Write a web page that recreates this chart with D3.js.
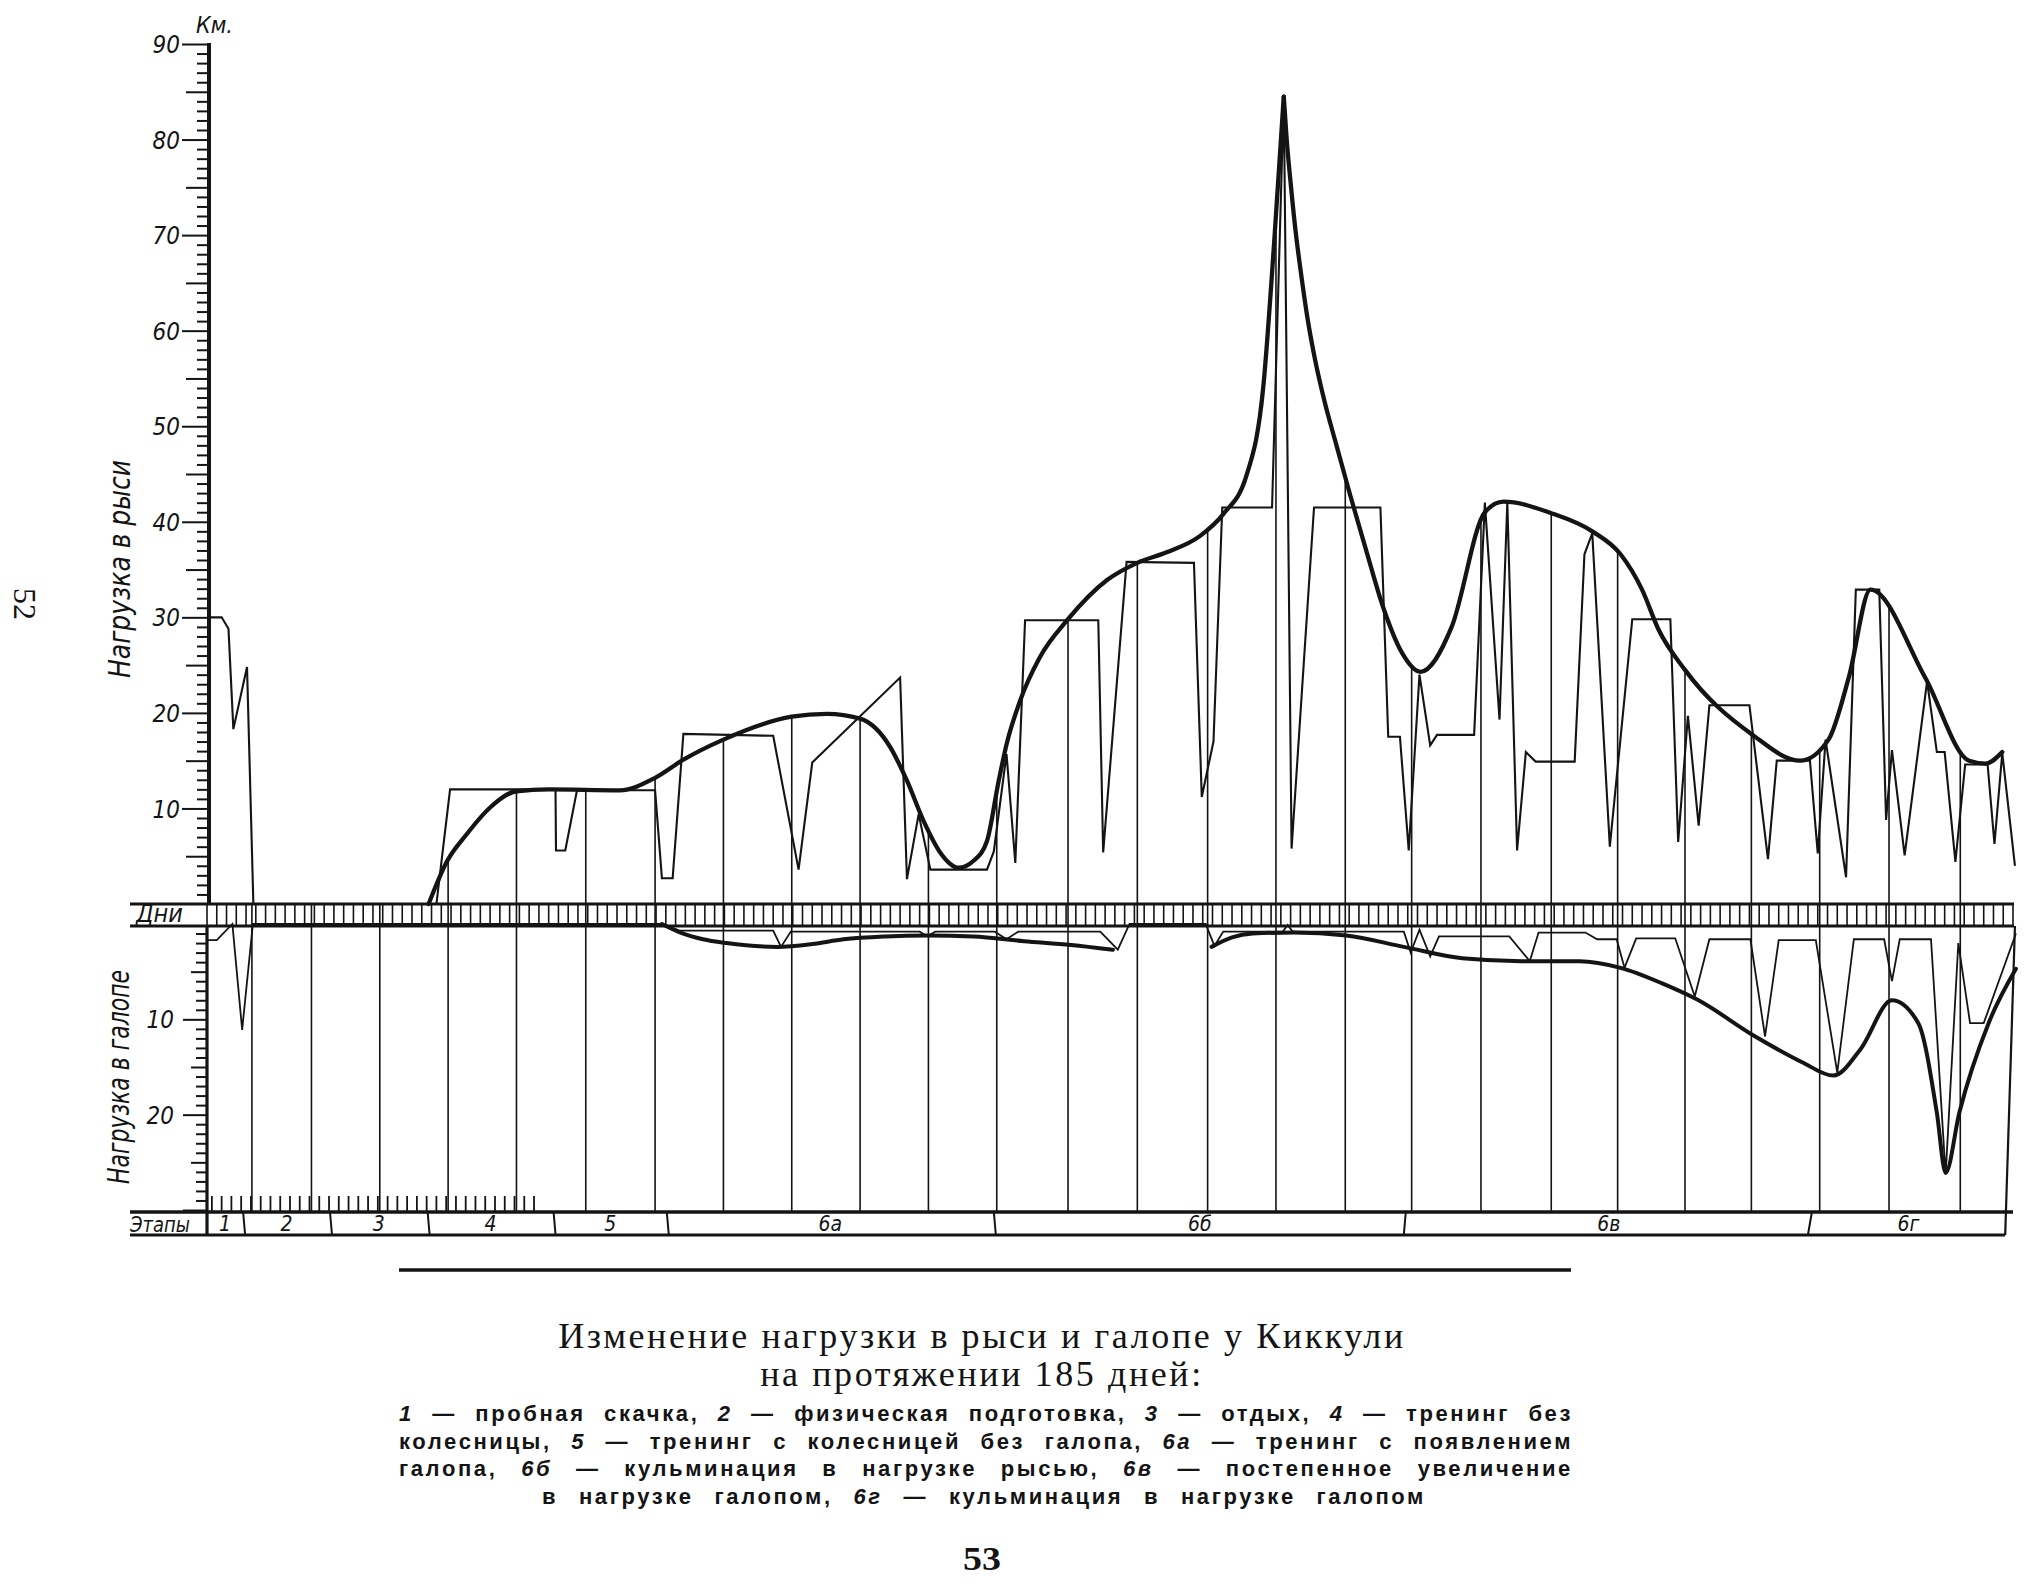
<!DOCTYPE html>
<html><head><meta charset="utf-8">
<script src="https://cdn.jsdelivr.net/npm/d3@7"></script>
<style>
html,body{margin:0;padding:0;background:#fff;}
svg{display:block;}
</style></head>
<body>
<svg id="chart" width="2033" height="1589"></svg>
<script>
// ---------------- DATA ----------------
// Trot load, thin daily line: [day, km]
const trotDaily = [[0,30],[1.5,30],[2.2,28.8],[2.7,18.3],[4.1,24.8],[4.75,0],[23.5,0],[24.9,12],[35.7,12],[35.75,5.6],[36.7,5.6],[37.9,11.9],[45.9,11.9],[46.6,2.7],[47.7,2.7],[48.8,17.8],[58.0,17.6],[60.6,3.6],[62.0,14.8],[71.0,23.7],[71.7,2.6],[72.9,9.4],[74.1,3.6],[79.9,3.6],[80.6,5.5],[81.9,15.7],[82.8,4.3],[83.8,29.7],[91.3,29.7],[91.8,5.4],[94.2,35.8],[101.1,35.7],[101.9,11.2],[103.1,17.0],[104.0,41.5],[109.1,41.5],[110.3,84.5],[111.1,5.8],[113.4,41.5],[120.2,41.5],[121.0,17.5],[122.2,17.5],[123.1,5.6],[124.2,24.0],[125.3,16.6],[126.0,17.7],[129.8,17.7],[130.9,42.0],[132.4,19.3],[133.2,42.0],[134.2,5.6],[135.1,15.9],[136.1,14.9],[140.1,14.9],[141.1,36.6],[141.9,38.8],[143.7,6.0],[146.0,29.8],[149.9,29.8],[150.7,6.5],[151.7,19.7],[152.8,8.2],[153.9,20.8],[158.0,20.8],[159.9,4.7],[160.8,15.0],[164.2,15.0],[165.0,5.3],[165.8,17.2],[167.9,2.8],[168.9,32.9],[171.3,32.9],[172.0,8.8],[172.6,16.1],[173.9,5.1],[176.2,23.3],[177.2,15.9],[178.0,15.9],[179.1,4.4],[180.1,14.6],[182.4,14.6],[183.1,6.3],[183.9,15.8],[185.2,4.0]];
// Trot trend (thick), rising part up to the peak and falling part after it
const trotTrendRise = [[22.7,0],[24.6,4.5],[26.6,7.3],[29.0,10.1],[31.7,11.8],[35.0,12.0],[42.3,11.9],[45.9,13.2],[48.8,15.1],[52.9,17.2],[59.9,19.6],[63.5,19.9],[66.9,19.4],[70.0,16.4],[71.7,12.9],[73.4,8.7],[75.1,5.4],[77.0,3.8],[78.5,4.5],[79.9,6.6],[81.1,12.9],[81.9,16.7],[83.3,21.3],[85.3,25.8],[88.2,29.8],[92.2,33.9],[95.3,35.7],[98.3,36.8],[101.7,38.5],[104.1,40.8],[106.5,44.9],[108.2,54.1],[109.3,69.0],[110.3,84.5]];
const trotTrendFall = [[110.3,84.5],[110.6,80.0],[111.0,75.5],[111.5,70.5],[112.0,66.5],[112.7,61.5],[113.5,57.0],[114.5,52.5],[115.7,48.0],[117.1,42.8],[118.8,36.8],[120.5,31.0],[122.4,26.3],[124.3,24.3],[127.5,29.0],[130.9,41.0],[132.8,42.1],[137.7,40.9],[141.9,39.0],[144.8,36.6],[147.0,32.9],[148.7,28.7],[151.4,24.5],[158.2,17.8],[163.2,15.0],[166.1,17.2],[168.2,23.8],[170.4,32.9],[176.0,23.7],[180.5,15.0],[182.2,14.7],[183.9,15.9]];
// Gallop load, thin daily line: [day, km] (drawn downward)
const gallopDaily = [[0,1.7],[1.0,1.7],[2.6,0],[3.6,11.1],[4.7,0],[46.6,0],[48.4,0.7],[58.0,0.7],[58.8,2.4],[59.8,0.8],[73.0,0.8],[73.8,1.3],[74.6,0.8],[80.7,0.8],[81.9,1.6],[83.1,0.8],[91.5,0.8],[93.3,2.7],[94.5,0],[102.3,0],[103.2,2.3],[104.1,0.8],[110.2,0.8],[110.7,0.1],[111.2,0.8],[122.6,0.8],[123.3,3.0],[124.2,0.6],[125.3,3.4],[126.2,1.3],[133.4,1.3],[135.5,3.9],[136.4,0.9],[141.2,0.9],[142.4,1.6],[144.4,1.6],[145.2,4.6],[146.4,1.5],[150.4,1.5],[152.4,7.6],[153.9,1.6],[158.1,1.6],[159.6,11.8],[161.0,1.7],[164.8,1.7],[167.0,15.6],[168.7,1.6],[171.8,1.6],[172.6,6.0],[173.4,1.6],[176.6,1.6],[178.1,26.3],[179.4,2.0],[180.6,10.4],[182.0,10.4],[185.3,1.0]];
// Gallop trend (thick), two pieces
const gallopTrendA = [[46.6,0],[48.5,0.9],[50.8,1.6],[53.2,2.0],[58.4,2.4],[62.0,2.1],[65.2,1.6],[69.5,1.3],[73.8,1.2],[78.5,1.3],[83.7,1.8],[88.5,2.2],[92.8,2.7]];
const gallopTrendB = [[102.9,2.4],[105.0,1.4],[107.1,1.0],[111.3,0.9],[116.7,1.2],[122.6,2.4],[128.6,3.6],[134.6,3.9],[140.6,3.9],[144.8,4.6],[149.0,6.2],[152.6,7.9],[158.6,11.8],[163.4,14.5],[166.6,15.9],[169.4,13.1],[172.6,8.0],[175.3,10.4],[177.2,19.8],[178.1,26.1],[179.5,19.8],[182.5,10.4],[185.3,4.7]];
// Stages (end day of each stage) and their labels
const stageEnds = [3.7, 12.6, 22.6, 35.5, 47.1, 80.6, 122.8, 164.4, 184.2];
const stageLabels = ["1","2","3","4","5","6а","6б","6в","6г"];
// Weekly vertical lines (day positions)
const weekLines = [4.6,10.7,17.7,24.7,31.7,38.8,45.9,52.9,59.9,66.9,73.9,80.9,88.2,95.3,102.5,109.5,116.6,123.4,130.5,137.7,144.5,151.4,158.2,165.2,172.3,179.6];
// Axis tick labels
const trotTickLabels = [10,20,30,40,50,60,70,80,90];
const gallopTickLabels = [10,20];
// Texts
const captionTitle = ["Изменение нагрузки в рыси и галопе у Киккули", "на протяжении 185 дней:"];
const captionBody = [
  "*1* — пробная скачка, *2* — физическая подготовка, *3* — отдых, *4* — тренинг без",
  "колесницы, *5* — тренинг с колесницей без галопа, *6а* — тренинг с появлением",
  "галопа, *6б* — кульминация в нагрузке рысью, *6в* — постепенное увеличение",
  "в нагрузке галопом, *6г* — кульминация в нагрузке галопом"
];

// ---------------- DRAWING ----------------
const ink = "#141414";
const DRAFT = "'Liberation Sans Narrow','DejaVu Sans Condensed','Liberation Sans',sans-serif";
const svg = d3.select("#chart");
svg.append("rect").attr("width",2033).attr("height",1589).attr("fill","#fff");

const x  = d3.scaleLinear().domain([0,185]).range([207,2013]);
const yT = d3.scaleLinear().domain([0,90]).range([904,44]);
const yG = d3.scaleLinear().domain([0,30]).range([924,1210]);

const BAND_TOP = yT(0), BAND_BOT = 926;
const STAGE_TOP = 1212, STAGE_BOT = 1235;
const LEFT = 130;

// weekly lines clipped below trot trend
const defs = svg.append("defs");
const clip = defs.append("clipPath").attr("id","underTrend");
clip.append("rect").attr("x",0).attr("y",BAND_TOP).attr("width",2033).attr("height",STAGE_TOP-BAND_TOP+2);
const trendArea = d3.area().x(d=>x(d[0])).y0(STAGE_TOP).y1(d=>yT(d[1])).curve(d3.curveMonotoneX);
[trotTrendRise, trotTrendFall].forEach(p => clip.append("path").attr("d", trendArea(p)));

svg.append("g").attr("clip-path","url(#underTrend)")
  .selectAll("line").data(weekLines).join("line")
  .attr("x1", d=>x(d)).attr("x2", d=>x(d))
  .attr("y1", STAGE_TOP).attr("y2", 30)
  .attr("stroke", ink).attr("stroke-width", 1.6);

// Days band
const band = svg.append("g");
band.selectAll("line.day").data(d3.range(0,186)).join("line").attr("class","day")
  .attr("x1", d=>x(d)).attr("x2", d=>x(d))
  .attr("y1", BAND_TOP).attr("y2", BAND_BOT)
  .attr("stroke", ink).attr("stroke-width", 1.6);
[BAND_TOP, BAND_BOT].forEach(yy => band.append("line")
  .attr("x1", LEFT).attr("x2", x(185)+1).attr("y1", yy).attr("y2", yy)
  .attr("stroke", ink).attr("stroke-width", 3.2));
band.append("text").text("Дни").attr("x", 136).attr("y", 922)
  .attr("font-family", DRAFT).attr("font-style","italic").attr("font-size", 25).attr("fill", ink);

// bottom daily ticks (first days)
svg.append("g").selectAll("line").data(d3.range(0,34)).join("line")
  .attr("x1", d=>x(d+0.5)).attr("x2", d=>x(d+0.5))
  .attr("y1", STAGE_TOP-16).attr("y2", STAGE_TOP)
  .attr("stroke", ink).attr("stroke-width", 1.8);

// Stages band
const st = svg.append("g");
st.append("line").attr("x1", LEFT).attr("x2", x(185)).attr("y1", STAGE_TOP).attr("y2", STAGE_TOP)
  .attr("stroke", ink).attr("stroke-width", 3.4);
st.append("line").attr("x1", LEFT).attr("x2", x(stageEnds[stageEnds.length-1])).attr("y1", STAGE_BOT).attr("y2", STAGE_BOT)
  .attr("stroke", ink).attr("stroke-width", 3);
const skew = d => d > 150 ? -4 : (d > 110 ? -2 : 2);
st.selectAll("line.sep").data(stageEnds.slice(0,-1)).join("line").attr("class","sep")
  .attr("x1", d=>x(d)).attr("x2", d=>x(d)+skew(d))
  .attr("y1", STAGE_TOP).attr("y2", STAGE_BOT)
  .attr("stroke", ink).attr("stroke-width", 2);
// right closing line
st.append("line").attr("x1", x(185.2)).attr("y1", BAND_BOT).attr("x2", x(stageEnds[stageEnds.length-1])).attr("y2", STAGE_BOT)
  .attr("stroke", ink).attr("stroke-width", 2.2);
const starts = [0].concat(stageEnds.slice(0,-1));
st.selectAll("text.stg").data(stageLabels).join("text").attr("class","stg")
  .attr("x", (d,i)=> (x(starts[i]) + x(stageEnds[i]))/2)
  .attr("y", 1231).attr("text-anchor","middle")
  .attr("font-family", DRAFT).attr("font-style","italic").attr("font-size", 21).attr("fill", ink)
  .text(d=>d);
st.append("text").text("Этапы").attr("x", 130).attr("y", 1232)
  .attr("font-family", DRAFT).attr("font-style","italic").attr("font-size", 22).attr("fill", ink)
  .attr("textLength", 60).attr("lengthAdjust","spacingAndGlyphs");

// Trot axis
const axT = d3.axisLeft(yT).tickValues(d3.range(1,91)).tickSize(0).tickSizeOuter(0)
  .tickFormat(d => trotTickLabels.includes(d) ? d : "");
const gT = svg.append("g").attr("transform","translate(209,0)").call(axT);
gT.select(".domain").remove();
gT.selectAll(".tick line").attr("x2", d => d%10===0 ? -27 : (d%5===0 ? -23 : -12))
  .attr("stroke", ink).attr("stroke-width", 2);
gT.selectAll(".tick text").attr("x", -29).attr("dy","0.36em")
  .attr("font-family", DRAFT).attr("font-style","italic").attr("font-size", 24).attr("fill", ink);
svg.append("line").attr("x1",209).attr("x2",209).attr("y1", yT(90)-1).attr("y2", BAND_TOP)
  .attr("stroke", ink).attr("stroke-width", 4);
svg.append("text").text("Км.").attr("x", 196).attr("y", 33)
  .attr("font-family", DRAFT).attr("font-style","italic").attr("font-size", 23).attr("fill", ink);

// Gallop axis
const axG = d3.axisLeft(yG).tickValues(d3.range(1,31)).tickSize(0).tickSizeOuter(0)
  .tickFormat(d => gallopTickLabels.includes(d) ? d : "");
const gG = svg.append("g").attr("transform","translate(207,0)").call(axG);
gG.select(".domain").remove();
gG.selectAll(".tick line").attr("x2", d => d%10===0 ? -24 : (d%5===0 ? -16 : -11))
  .attr("stroke", ink).attr("stroke-width", 2);
gG.selectAll(".tick text").attr("x", -33).attr("dy","0.36em")
  .attr("font-family", DRAFT).attr("font-style","italic").attr("font-size", 24).attr("fill", ink);
svg.append("line").attr("x1",207).attr("x2",207).attr("y1", BAND_BOT).attr("y2", STAGE_BOT)
  .attr("stroke", ink).attr("stroke-width", 3.2);

// Axis titles
svg.append("text").text("Нагрузка в рыси")
  .attr("transform","translate(130,569) rotate(-90)").attr("text-anchor","middle")
  .attr("font-family", DRAFT).attr("font-style","italic").attr("font-size", 30).attr("fill", ink)
  .attr("textLength", 218).attr("lengthAdjust","spacingAndGlyphs");
svg.append("text").text("Нагрузка в галопе")
  .attr("transform","translate(129,1077) rotate(-90)").attr("text-anchor","middle")
  .attr("font-family", DRAFT).attr("font-style","italic").attr("font-size", 30).attr("fill", ink)
  .attr("textLength", 214).attr("lengthAdjust","spacingAndGlyphs");

// Lines
const lineT = d3.line().x(d=>x(d[0])).y(d=>yT(d[1]));
const lineG = d3.line().x(d=>x(d[0])).y(d=>yG(d[1]));
const smoothT = d3.line().x(d=>x(d[0])).y(d=>yT(d[1])).curve(d3.curveMonotoneX);
const smoothG = d3.line().x(d=>x(d[0])).y(d=>yG(d[1])).curve(d3.curveMonotoneX);

svg.append("path").attr("d", lineT(trotDaily)).attr("fill","none")
  .attr("stroke", ink).attr("stroke-width", 2.1).attr("stroke-linejoin","miter").attr("stroke-miterlimit", 3);
svg.append("path").attr("d", lineG(gallopDaily)).attr("fill","none")
  .attr("stroke", ink).attr("stroke-width", 1.8).attr("stroke-linejoin","miter").attr("stroke-miterlimit", 3);
[trotTrendRise, trotTrendFall].forEach(p => svg.append("path").attr("d", smoothT(p)).attr("fill","none")
  .attr("stroke", ink).attr("stroke-width", 4.3).attr("stroke-linecap","round"));
[gallopTrendA, gallopTrendB].forEach(p => svg.append("path").attr("d", smoothG(p)).attr("fill","none")
  .attr("stroke", ink).attr("stroke-width", 4.0).attr("stroke-linecap","round"));

// Rule under chart
svg.append("line").attr("x1",399).attr("x2",1571).attr("y1",1270).attr("y2",1270)
  .attr("stroke", ink).attr("stroke-width", 3.4);

// Caption
const SERIF = "'Liberation Serif','DejaVu Serif',serif";
const BODY = "'Liberation Sans','DejaVu Sans',sans-serif";
function justify(node, target){
  const sel = d3.select(node);
  const spaces = (sel.text().match(/ /g) || []).length;
  const w = node.getComputedTextLength();
  if (spaces > 0) sel.style("word-spacing", Math.max(0,(target - w)/spaces).toFixed(2) + "px");
}
const titleY = [1348, 1386], titleW = [845, 438];
captionTitle.forEach((s,i) => {
  const ts = svg.append("text").attr("text-anchor","middle").attr("x", 982).attr("y", titleY[i])
    .attr("font-family", SERIF).attr("font-size", 36).attr("fill", ink)
    .style("letter-spacing","2.6px").text(s);
  justify(ts.node(), titleW[i]);
});

const bodyY = [1421, 1448.5, 1476, 1503.5];
captionBody.forEach((line, i) => {
  const last = i === captionBody.length - 1;
  const t = svg.append("text").attr("y", bodyY[i])
    .attr("font-family", BODY).attr("font-weight","bold").attr("font-size", 22).attr("fill", ink)
    .style("letter-spacing","2.6px")
    .attr("x", last ? 984 : 399).attr("text-anchor", last ? "middle" : "start");
  line.split("*").forEach((seg, k) => {
    if (!seg) return;
    t.append("tspan").text(seg).attr("font-style", k % 2 === 1 ? "italic" : "normal");
  });
  justify(t.node(), last ? 884 : 1174);
});

svg.append("text").text("53").attr("x", 982).attr("y", 1570).attr("text-anchor","middle")
  .attr("font-family", SERIF).attr("font-weight","bold").attr("font-size", 34).attr("fill", ink)
  .attr("textLength", 38).attr("lengthAdjust","spacingAndGlyphs");
svg.append("text").text("52").attr("transform","translate(14,604) rotate(90)").attr("text-anchor","middle")
  .attr("font-family", SERIF).attr("font-size", 32).attr("fill", ink);
</script>
</body></html>
